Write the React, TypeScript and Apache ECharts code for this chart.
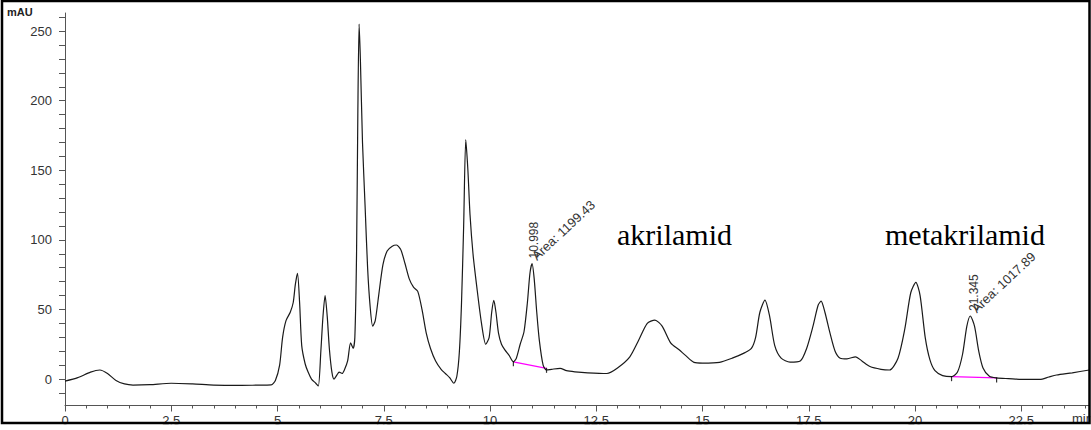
import React, { useEffect, useRef } from "react";
import * as echarts from "echarts";

const timeMin = [
  0, 0.3, 0.6, 0.82, 1.0, 1.2, 1.4, 1.6, 2.0, 2.5, 3.0, 3.5, 4.0, 4.5, 4.85, 4.95,
  5.05, 5.12, 5.2, 5.3, 5.37, 5.42, 5.47, 5.52, 5.57, 5.65, 5.72, 5.8, 5.9, 5.96,
  6.02, 6.07, 6.12, 6.17, 6.22, 6.28, 6.33, 6.4, 6.45, 6.52, 6.58, 6.65, 6.72, 6.78,
  6.82, 6.86, 6.89, 6.92, 6.95, 7.0, 7.06, 7.12, 7.18, 7.24, 7.3, 7.38, 7.48, 7.58,
  7.7, 7.8, 7.9, 8.0, 8.1, 8.2, 8.3, 8.4, 8.5, 8.6, 8.72, 8.85, 8.95, 9.05, 9.15,
  9.22, 9.28, 9.33, 9.38, 9.43, 9.48, 9.53, 9.6, 9.69, 9.8, 9.9, 9.98, 10.04, 10.09,
  10.14, 10.2, 10.27, 10.35, 10.45, 10.55, 10.62, 10.71, 10.8, 10.88, 10.94, 10.99,
  11.04, 11.1, 11.16, 11.25, 11.33, 11.45, 11.65, 11.8, 12.0, 12.3, 12.75, 13.0,
  13.29, 13.5, 13.7, 13.88, 14.05, 14.25, 14.45, 14.6, 14.8, 15.0, 15.4, 15.7, 16.0,
  16.15, 16.25, 16.35, 16.47, 16.58, 16.7, 16.85, 17.06, 17.3, 17.45, 17.6, 17.72,
  17.79, 17.88, 18.0, 18.12, 18.24, 18.4, 18.6, 18.75, 18.94, 19.2, 19.4, 19.6,
  19.76, 19.9, 20.02, 20.12, 20.24, 20.35, 20.47, 20.65, 20.86, 21.0, 21.12, 21.22,
  21.3, 21.4, 21.5, 21.6, 21.75, 21.92, 22.2, 22.6, 22.94, 23.15, 23.33, 23.7, 24.1
];

const signalMAU = [
  -1.5, 1, 5, 6.5, 4, -1, -3.5, -4.3, -4, -3, -3.5, -4.3, -4.6, -4.4, -4.2, -1,
  10, 30, 42, 48, 55, 68, 76, 55, 24, 11, 5, 0, -3, -5,
  20, 45, 60, 45, 22, 5, 0, 3, 5, 4, 7, 13, 26, 22,
  30, 90, 190, 255, 230, 170, 125, 80, 52, 38, 42, 60, 82, 92,
  95.5, 96.3, 93, 83, 72, 66, 63, 50, 33, 22, 13, 7, 4, 1, -3,
  2, 20, 55, 110, 172, 150, 118, 90, 66, 40, 25, 30, 48, 56.5,
  48, 33, 25, 21, 17, 12.4, 15, 25, 34, 55, 76, 83,
  72, 48, 28, 10, 6.5, 7, 7.7, 6, 5.2, 4.5, 4, 8,
  16, 28, 40, 42.4, 38, 26, 21, 17, 12, 11.5, 12, 15, 19,
  22, 30, 48, 56.7, 45, 24, 15, 12.2, 13, 22, 38, 53,
  56, 48, 33, 20, 15, 14.5, 16, 13, 9, 7, 6.5, 15,
  36, 62, 69.5, 60, 30, 14, 6, 2.5, 1.7, 5, 18, 38,
  45.3, 38, 20, 8, 2, 0.8, 0.3, -0.3, -0.3, 1.5, 2.9, 4.5, 6.5
];

const xTickLabels = [0, 2.5, 5, 7.5, 10, 12.5, 15, 17.5, 20, 22.5];
const yTickLabels = [0, 50, 100, 150, 200, 250];

const baselineAkrilamid = [[10.55, 12.4], [11.33, 7.7]];
const baselineMetakrilamid = [[20.86, 1.7], [21.92, 0.8]];

const peakTimes = [10.998, 21.345];
const peakHeights = [83, 45.3];
const peakAreas = ["1199.43", "1017.89"];
const compoundNames = ["akrilamid", "metakrilamid"];

const X_MAX = 24.094;

export default function App() {
  const ref = useRef<HTMLDivElement>(null);

  useEffect(() => {
    if (!ref.current) return;
    const chart = echarts.init(ref.current, undefined, { renderer: "svg" });

    const xMinor: number[] = [];
    for (let i = 0; i <= 48; i++) xMinor.push(i * 0.5);
    const yMinor: number[] = [];
    for (let i = -1; i <= 26; i++) yMinor.push(i * 10);

    const curve = timeMin.map((t, i) => [t, signalMAU[i]]);
    const font = "'Liberation Sans', Arial, sans-serif";
    const serif = "'Liberation Serif', 'Times New Roman', serif";

    const option: any = {
      animation: false,
      backgroundColor: "#ffffff",
      grid: { left: 65, top: 13, width: 1024, height: 392.5, containLabel: false },
      xAxis: [
        {
          type: "value",
          min: 0,
          max: X_MAX,
          axisLine: { show: true, onZero: false, lineStyle: { color: "#555", width: 1 } },
          axisTick: { show: true, customValues: xTickLabels, length: 6, lineStyle: { color: "#555" } },
          axisLabel: {
            customValues: xTickLabels,
            margin: 8,
            fontFamily: font,
            fontSize: 13,
            color: "#333",
            formatter: (v: number) => String(v),
          },
          splitLine: { show: false },
        },
        {
          type: "value",
          min: 0,
          max: X_MAX,
          position: "bottom",
          axisLine: { show: false, onZero: false },
          axisTick: { show: true, customValues: xMinor, length: 3, lineStyle: { color: "#555" } },
          axisLabel: { show: false },
          splitLine: { show: false },
        },
      ],
      yAxis: {
        type: "value",
        min: -19,
        max: 263,
        axisLine: { show: true, onZero: false, lineStyle: { color: "#555", width: 1 } },
        axisTick: { show: true, customValues: yMinor, length: 6, lineStyle: { color: "#555" } },
        axisLabel: {
          customValues: yTickLabels,
          margin: 13,
          fontFamily: font,
          fontSize: 13,
          color: "#333",
        },
        splitLine: { show: false },
      },
      series: [
        {
          type: "line",
          data: curve,
          symbol: "none",
          smooth: 0.25,
          lineStyle: { color: "#1a1a1a", width: 1.2 },
          z: 3,
        },
        {
          type: "line",
          data: baselineAkrilamid,
          symbol: "none",
          lineStyle: { color: "#ff00ff", width: 1.2 },
          z: 2,
        },
        {
          type: "line",
          data: baselineMetakrilamid,
          symbol: "none",
          lineStyle: { color: "#ff00ff", width: 1.2 },
          z: 2,
        },
        {
          type: "scatter",
          data: [...baselineAkrilamid, ...baselineMetakrilamid],
          symbol: "rect",
          symbolSize: [1.2, 5],
          symbolOffset: [0, 2],
          itemStyle: { color: "#000" },
          z: 4,
        },
      ],
    };

    chart.setOption(option);

    const graphics: any[] = [];
    peakTimes.forEach((t, i) => {
      const p = chart.convertToPixel({ gridIndex: 0 }, [t, peakHeights[i]]) as number[];
      graphics.push({
        type: "text",
        x: p[0] + 2,
        y: p[1] - 5,
        rotation: Math.PI / 2,
        style: {
          text: t.toFixed(3),
          font: `12px ${font}`,
          fill: "#333",
          align: "left",
          verticalAlign: "middle",
        },
        z: 10,
      });
      graphics.push({
        type: "text",
        x: p[0] + 6,
        y: p[1] - 1,
        rotation: (43 * Math.PI) / 180,
        style: {
          text: `Area: ${peakAreas[i]}`,
          font: `13px ${font}`,
          fill: "#333",
          align: "left",
          verticalAlign: "bottom",
        },
        z: 10,
      });
    });

    graphics.push(
      {
        type: "text",
        x: 617,
        y: 219,
        style: { text: compoundNames[0], font: `30px ${serif}`, fill: "#000", align: "left", verticalAlign: "top" },
        z: 10,
      },
      {
        type: "text",
        x: 885,
        y: 219,
        style: { text: compoundNames[1], font: `30px ${serif}`, fill: "#000", align: "left", verticalAlign: "top" },
        z: 10,
      },
      {
        type: "text",
        x: 7,
        y: 6,
        style: { text: "mAU", font: `bold 11px ${font}`, fill: "#222", align: "left", verticalAlign: "top" },
        z: 10,
      },
      {
        type: "text",
        x: 1072,
        y: 412,
        style: { text: "min", font: `13px ${font}`, fill: "#333", align: "left", verticalAlign: "top" },
        z: 10,
      },
      {
        type: "rect",
        shape: { x: 0, y: 424.3, width: 1091, height: 6 },
        style: { fill: "#fff" },
        z: 100,
      },
      {
        type: "rect",
        shape: { x: 1090.3, y: 0, width: 1, height: 430 },
        style: { fill: "#fff" },
        z: 100,
      },
      {
        type: "rect",
        shape: { x: 2, y: 1, width: 1087.5, height: 422 },
        style: { fill: "none", stroke: "#000", lineWidth: 2.5 },
        z: 101,
      }
    );

    chart.setOption({ graphic: graphics });

    return () => chart.dispose();
  }, []);

  return (
    <div
      ref={ref}
      style={{ position: "fixed", left: 0, top: 0, width: 1091, height: 430, background: "#fff" }}
    />
  );
}
